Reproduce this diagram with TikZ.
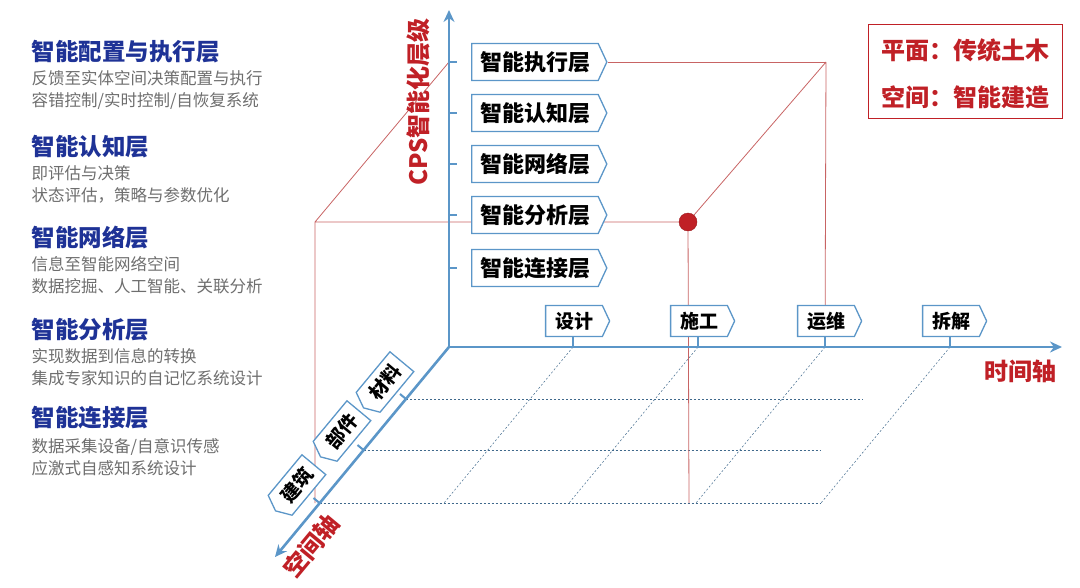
\documentclass[tikz,border=0pt]{standalone}
\usepackage{fontspec}
\setmainfont{Noto Sans CJK SC}
\usetikzlibrary{shapes.symbols,arrows.meta}
\definecolor{axblue}{RGB}{91,150,200}
\definecolor{dred}{RGB}{192,32,38}
\definecolor{ttl}{RGB}{30,50,150}
\definecolor{gtx}{RGB}{110,110,110}
\definecolor{lred}{RGB}{200,100,100}
\tikzset{
 lay/.style={signal, signal to=east, signal pointer angle=130, draw=axblue, line width=1.3pt, fill=white, minimum width=135pt, minimum height=37pt, inner xsep=3pt, font=\fontsize{22}{22}\selectfont\bfseries},
 tbox/.style={signal, signal to=east, signal pointer angle=130, draw=axblue, line width=1.3pt, fill=white, minimum width=64pt, minimum height=31pt, inner xsep=3pt, font=\fontsize{19}{19}\selectfont\bfseries},
 sbox/.style={signal, signal to=west, signal pointer angle=130, draw=axblue, line width=1.3pt, fill=white, minimum width=60pt, minimum height=31pt, inner xsep=3pt, rotate=50.3, font=\fontsize{19}{19}\selectfont\bfseries},
 axis/.style={axblue, line width=2.6pt, -{Stealth[length=12pt,width=11pt]}},
 tk/.style={axblue, line width=2pt},
 grid/.style={axblue!70!black, line width=0.5pt, dash pattern=on 2pt off 2pt},
 rl/.style={lred, line width=0.8pt},
 ttl/.style={anchor=west, text=ttl, font=\fontsize{23.5}{23.5}\selectfont\bfseries},
 sub/.style={anchor=west, text=gtx, font=\fontsize{16.5}{22}\selectfont, align=left},
 alab/.style={text=dred, font=\fontsize{24}{24}\selectfont\bfseries},
}
\begin{document}
\begin{tikzpicture}[x=1pt,y=-1pt]
\useasboundingbox (0,0) rectangle (1080,587);
% coordinates
\coordinate (O) at (449,347);
\coordinate (t1) at (573,347); \coordinate (t2) at (698,347); \coordinate (t3) at (825,347); \coordinate (t4) at (950,347);
\coordinate (b1) at (444,503); \coordinate (b2) at (569,503); \coordinate (b3) at (696,503); \coordinate (b4) at (821,503);
\coordinate (s1) at (406,399); \coordinate (s2) at (363.5,450); \coordinate (s3) at (319.5,503);
\coordinate (r1) at (863,399); \coordinate (r2) at (821,450);
% grid
\draw[grid] (t1)--(b1) (t2)--(b2) (t3)--(b3) (t4)--(b4);
\draw[grid] (s1)--(r1) (s2)--(r2) (s3)--(b4);
% red cuboid lines
\coordinate (A) at (315,222); \coordinate (B) at (449,62); \coordinate (C) at (826,62);
\coordinate (D) at (315,503); \coordinate (E) at (689,503);
\node[circle, fill=dred, draw=dred!80!black, minimum size=18pt, inner sep=0] (dot) at (688,222) {};
\draw[rl] (D)--(A)--(B) (A)--(dot) (dot)--(E) (C)--(dot) (C)--(t3);
% axes
\draw[axis] (O)--(449,10);
\draw[axis] (O)--(1062,347);
\draw[axis] (O)--(275,557);
% vertical ticks and layer boxes
\foreach \y/\n/\t in {62/l1/智能执行层,113/l2/智能认知层,164/l3/智能网络层,215/l4/智能分析层,268/l5/智能连接层}{
 \draw[tk] (449,\y)--(457,\y);
 \node[lay] (\n) at (535,\y) {\t};
}
\draw[rl] (l1.east)--(C);
% time ticks and boxes
\foreach \x/\n/\t in {573/tb1/设计,698/tb2/施工,825/tb3/运维,950/tb4/拆解}{
 \draw[tk] (\x,337)--(\x,347);
 \node[tbox] (\n) at (\x+1,321) {\t};
}
% space ticks and boxes
\draw[tk] (s1)--++(-6,-5); \draw[tk] (s2)--++(-6,-5); \draw[tk] (s3)--++(-6,-5);
\node[sbox] (sb1) at (385,382) {材料};
\node[sbox] (sb2) at (342,431) {部件};
\node[sbox] (sb3) at (297,485) {建筑};
% axis labels
\node[alab, rotate=90] (yl) at (418,102) {CPS智能化层级};
\node[alab] (xl) at (1020,371) {时间轴};
\node[alab, rotate=50.3] (zl) at (311,546) {空间轴};
% legend
\node[draw=dred, line width=1pt, minimum width=194pt, minimum height=94pt] (leg) at (965,71) {};
\node[alab] (lg1) at (965,50) {平面：传统土木};
\node[alab] (lg2) at (965,97) {空间：智能建造};
% left text
\node[ttl] (h1) at (28,52) {智能配置与执行层};
\node[sub] (d1) at (28,90) {反馈至实体空间决策配置与执行\\容错控制/实时控制/自恢复系统};
\node[ttl] (h2) at (28,147) {智能认知层};
\node[sub] (d2) at (28,184) {即评估与决策\\状态评估，策略与参数优化};
\node[ttl] (h3) at (28,238) {智能网络层};
\node[sub] (d3) at (28,275) {信息至智能网络空间\\数据挖掘、人工智能、关联分析};
\node[ttl] (h4) at (28,330) {智能分析层};
\node[sub] (d4) at (28,367) {实现数据到信息的转换\\集成专家知识的自记忆系统设计};
\node[ttl] (h5) at (28,418) {智能连接层};
\node[sub] (d5) at (28,457) {数据采集设备/自意识传感\\应激式自感知系统设计};
\end{tikzpicture}
\end{document}
